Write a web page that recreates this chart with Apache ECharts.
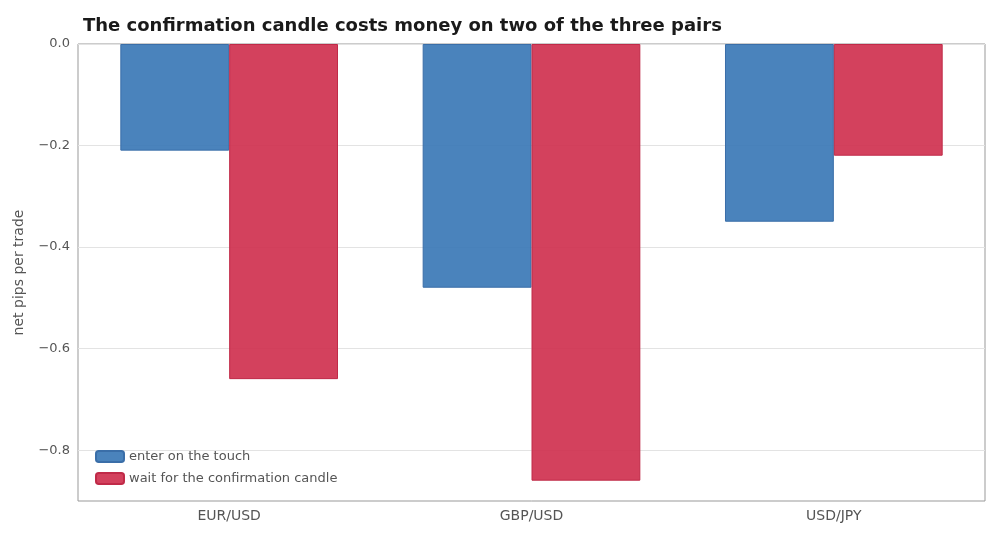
<!DOCTYPE html><html><head><meta charset="utf-8"><script src="https://cdn.jsdelivr.net/npm/echarts@6/dist/echarts.min.js"></script></head><body style="margin:0"><div id="c" style="width:1000px;height:540px"></div><script>
const categories=['EUR/USD','GBP/USD','USD/JPY'];
const touch=[-0.21,-0.48,-0.35];
const confirm=[-0.66,-0.86,-0.22];
const ch=echarts.init(document.getElementById('c'));
const fmt=v=>{const r=Math.round(v*10);if(r%2!==0)return '';return r===0?'0.0':'\u2212'+Math.abs(v).toFixed(1);};
ch.setOption({
title:{text:'The confirmation candle costs money on two of the three pairs',left:78,top:12,textStyle:{fontFamily:'DejaVu Sans',fontSize:18,fontWeight:'bold',color:'#1a1a1a'}},
grid:{left:78,right:15,top:44,bottom:39,show:true,borderColor:'#999',borderWidth:1},
legend:{orient:'vertical',left:90,bottom:50,itemWidth:28,itemHeight:11,itemGap:9,textStyle:{fontFamily:'DejaVu Sans',fontSize:13,color:'#555'},data:['enter on the touch','wait for the confirmation candle']},
xAxis:{type:'category',data:categories,axisLine:{show:false},axisTick:{alignWithLabel:true,lineStyle:{color:'#999'}},axisLabel:{fontFamily:'DejaVu Sans',fontSize:14,color:'#555',margin:8}},
yAxis:{type:'value',min:-0.9,max:0,interval:0.1,name:'net pips per trade',nameLocation:'middle',nameGap:52,nameTextStyle:{fontFamily:'DejaVu Sans',fontSize:14,color:'#555'},axisLine:{show:false},axisTick:{show:false},axisLabel:{formatter:fmt,fontFamily:'DejaVu Sans',fontSize:13,color:'#555'},splitLine:{lineStyle:{color:['transparent','#e3e3e3']}}},
series:[
{name:'enter on the touch',type:'bar',data:touch,barWidth:'36%',barGap:'0%',itemStyle:{color:'rgba(54,117,181,0.9)',borderColor:'#3a6ea8',borderWidth:1}},
{name:'wait for the confirmation candle',type:'bar',data:confirm,barWidth:'36%',itemStyle:{color:'rgba(206,44,75,0.9)',borderColor:'#c02a48',borderWidth:1}}
]});
</script></body></html>
